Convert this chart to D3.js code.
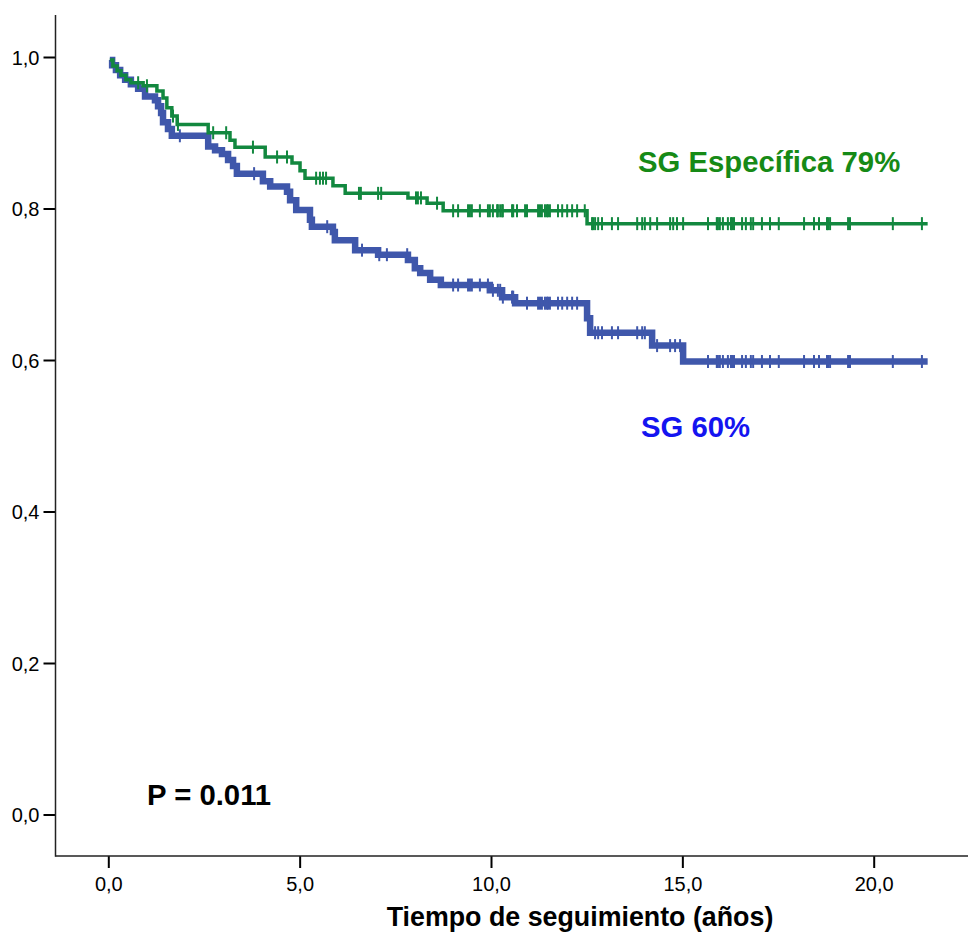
<!DOCTYPE html>
<html>
<head>
<meta charset="utf-8">
<script src="https://cdn.jsdelivr.net/npm/d3@7/dist/d3.min.js"></script>
<style>
  html, body { margin: 0; padding: 0; background: #fff; }
  svg { display: block; font-family: "Liberation Sans", Arial, sans-serif; }
</style>
</head>
<body>
<svg id="chart" width="970" height="935"></svg>
<script>
// ---- data (time in years, survival proportion) ----
const xTicks = [0, 5, 10, 15, 20];
const yTicks = [0, 0.2, 0.4, 0.6, 0.8, 1.0];
const endTime = 21.41;

// SG Específica (green)
const specTimes = [0.04, 0.12, 0.23, 0.33, 0.46, 0.59, 0.91, 1.27, 1.43, 1.53, 1.66, 1.80, 2.61, 3.18, 3.31, 4.10, 4.80, 5.01, 5.14, 5.87, 6.19, 7.83, 8.33, 8.75, 12.51];
const specSurv  = [0.996, 0.988, 0.982, 0.976, 0.970, 0.966, 0.962, 0.955, 0.946, 0.933, 0.922, 0.911, 0.900, 0.890, 0.881, 0.868, 0.860, 0.850, 0.840, 0.830, 0.820, 0.814, 0.807, 0.797, 0.780];
const specCensored = [0.78, 1.01, 1.69, 1.82, 2.74, 3.08, 3.78, 4.41, 4.67, 5.43, 5.53, 5.61, 5.69, 6.55, 6.60, 7.05, 7.13, 8.04, 8.09, 8.17, 8.59,
  9.01, 9.14, 9.40, 9.45, 9.50, 9.71, 9.92, 9.97, 10.05, 10.16, 10.18, 10.24, 10.29, 10.31, 10.55, 10.58, 10.68, 10.89, 10.94, 11.23, 11.28, 11.33, 11.41, 11.46, 11.49, 11.54, 11.75, 11.86, 11.99, 12.12, 12.25, 12.45,
  12.64, 12.67, 12.72, 12.80, 12.90, 13.16, 13.32, 13.82, 13.95, 14.02, 14.16, 14.34, 14.68, 14.76, 14.86, 15.02,
  15.67, 15.90, 15.93, 15.98, 16.06, 16.19, 16.27, 16.30, 16.35, 16.56, 16.66, 16.79, 16.85, 17.08, 17.29, 17.52, 18.18, 18.44, 18.57, 18.78, 18.81, 18.86, 19.33, 19.38, 20.50, 21.26];

// SG global (blue)
const sgTimes = [0.04, 0.10, 0.20, 0.31, 0.44, 0.59, 0.78, 0.96, 1.22, 1.30, 1.38, 1.43, 1.56, 1.66, 2.61, 2.79, 2.97, 3.13, 3.26, 3.36, 4.04, 4.23, 4.67, 4.75, 4.91, 5.27, 5.32, 5.87, 5.92, 6.45, 7.05, 7.83, 8.01, 8.15, 8.41, 8.69, 9.97, 10.29, 10.63, 12.51, 12.59, 14.21, 15.02];
const sgSurv  = [0.996, 0.989, 0.983, 0.976, 0.970, 0.964, 0.958, 0.948, 0.943, 0.935, 0.926, 0.914, 0.905, 0.896, 0.882, 0.877, 0.872, 0.864, 0.856, 0.846, 0.836, 0.829, 0.822, 0.811, 0.798, 0.785, 0.776, 0.769, 0.758, 0.745, 0.739, 0.732, 0.721, 0.715, 0.706, 0.699, 0.692, 0.683, 0.675, 0.655, 0.636, 0.619, 0.598];
const sgCensored = [1.87, 3.81, 5.72, 6.63, 7.08, 7.28, 7.81,
  9.01, 9.14, 9.40, 9.45, 9.50, 9.71, 9.92, 10.05, 10.18, 10.24, 10.31, 10.55, 10.58, 10.94, 11.23, 11.28, 11.33, 11.41, 11.46, 11.49, 11.54, 11.75, 11.86, 11.99, 12.12, 12.25,
  12.72, 12.80, 12.90, 13.16, 13.32, 13.82, 13.95, 14.02, 14.34, 14.68, 14.81, 14.94,
  15.67, 15.90, 15.93, 15.98, 16.06, 16.19, 16.27, 16.30, 16.35, 16.56, 16.66, 16.79, 16.85, 17.08, 17.29, 17.52, 18.18, 18.44, 18.57, 18.78, 18.81, 18.86, 19.33, 19.38, 20.50, 21.26];

const labelSpec = "SG Específica 79%";
const labelSG = "SG 60%";
const pText = "P = 0.011";
const xTitle = "Tiempo de seguimiento (años)";

// ---- drawing ----
const svg = d3.select("#chart");
const x = d3.scaleLinear().domain([0, 20]).range([108.3, 873.7]);
const y = d3.scaleLinear().domain([0, 1]).range([814.5, 57]);
const axisX0 = 55.5, axisY0 = 856, axisTop = 15, axisRight = 968;

const loc = d3.formatLocale({decimal: ",", thousands: ".", grouping: [3], currency: ["", ""]});
const fmt = loc.format(".1f");

// axes
const gx = svg.append("g").attr("transform", `translate(0,${axisY0})`)
  .call(d3.axisBottom(x).tickValues(xTicks).tickFormat(fmt).tickSize(12).tickSizeOuter(0));
gx.select(".domain").remove();
gx.selectAll(".tick line").attr("stroke", "#000").attr("stroke-width", 2);
gx.selectAll(".tick text").attr("font-size", 20).attr("fill", "#000").attr("y", 21).attr("dy", "0.71em")
  .attr("font-family", "Liberation Sans, Arial, sans-serif");

const gy = svg.append("g").attr("transform", `translate(${axisX0},0)`)
  .call(d3.axisLeft(y).tickValues(yTicks).tickFormat(fmt).tickSize(12).tickSizeOuter(0));
gy.select(".domain").remove();
gy.selectAll(".tick line").attr("stroke", "#000").attr("stroke-width", 2);
gy.selectAll(".tick text").attr("font-size", 20).attr("fill", "#000").attr("x", -16).attr("dy", "0.36em")
  .attr("font-family", "Liberation Sans, Arial, sans-serif");

svg.append("line").attr("x1", axisX0).attr("x2", axisX0).attr("y1", axisTop).attr("y2", axisY0 + 0.75)
  .attr("stroke", "#222").attr("stroke-width", 1.5);
svg.append("line").attr("x1", axisX0).attr("x2", axisRight).attr("y1", axisY0).attr("y2", axisY0)
  .attr("stroke", "#222").attr("stroke-width", 1.5);

function survAt(times, surv, t) {
  let v = surv[0];
  for (let i = 0; i < times.length; i++) { if (times[i] <= t + 1e-9) v = surv[i]; }
  return v;
}

const line = d3.line().x(d => x(d[0])).y(d => y(d[1])).curve(d3.curveStepAfter);

function drawCurve(times, surv, cens, color, width, censW) {
  const pts = times.map((t, i) => [t, surv[i]]);
  pts.push([endTime, surv[surv.length - 1]]);
  const g = svg.append("g");
  g.append("path").datum(pts).attr("d", line).attr("fill", "none")
    .attr("stroke", color).attr("stroke-width", width).attr("stroke-linejoin", "miter");
  g.selectAll("line.c").data(cens).enter().append("line").attr("class", "c")
    .attr("x1", d => x(d)).attr("x2", d => x(d))
    .attr("y1", d => y(survAt(times, surv, d)) - 6.5)
    .attr("y2", d => y(survAt(times, surv, d)) + 6.5)
    .attr("stroke", color).attr("stroke-width", censW);
}

drawCurve(sgTimes, sgSurv, sgCensored, "#3f57ab", 6.5, 2);
drawCurve(specTimes, specSurv, specCensored, "#12883f", 3.5, 2);

// labels
svg.append("text").attr("x", 638).attr("y", 172).text(labelSpec)
  .attr("font-size", 29.3).attr("font-weight", "bold").attr("fill", "#168a16");
svg.append("text").attr("x", 641).attr("y", 437).text(labelSG)
  .attr("font-size", 29.3).attr("font-weight", "bold").attr("fill", "#1414f0");
svg.append("text").attr("x", 147).attr("y", 805).text(pText)
  .attr("font-size", 29.3).attr("font-weight", "bold").attr("fill", "#000");
svg.append("text").attr("x", 580).attr("y", 926).attr("text-anchor", "middle").text(xTitle)
  .attr("font-size", 26.8).attr("font-weight", "bold").attr("fill", "#000");
</script>
</body>
</html>
